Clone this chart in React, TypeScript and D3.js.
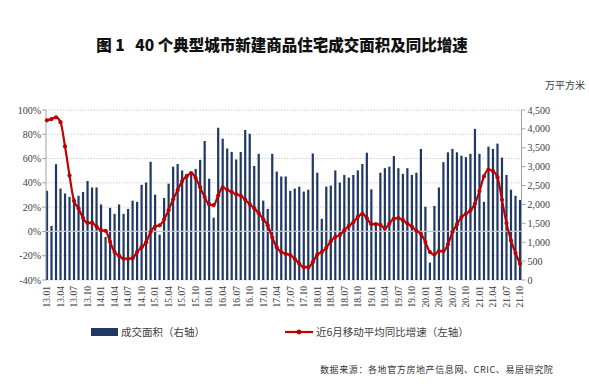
import React from "react";
import * as d3 from "d3";

// 成交面积（万平方米，右轴） 2013.01 – 2021.10
const areaValues: number[] = [
  2360, 1430, 3065, 2420, 2290, 2200, 2170, 2230, 2330, 2620, 2450, 2450,
  2000, 1140, 1910, 1750, 2000, 1750, 1880, 2100, 2070, 2520, 2580, 3130,
  2260, 1200, 2170, 2550, 3000, 3070, 2900, 2810, 2870, 2940, 3180, 3680,
  2680, 1650, 4030, 3740, 3480, 3390, 3190, 3390, 3970, 3870, 3020, 3340,
  2100, 1880, 3340, 2870, 2740, 2740, 2360, 2420, 2470, 2340, 2390, 3350,
  2840, 1620, 2470, 2500, 2900, 2580, 2780, 2710, 2780, 2900, 3070, 3370,
  2400, 1450, 2840, 2960, 3000, 3280, 2960, 2810, 2960, 2780, 2840, 3470,
  1940, 460, 1960, 2450, 3120, 3380, 3470, 3380, 3290, 3250, 3340, 4000,
  3340, 2070, 3530, 3470, 3610, 3240, 2780, 2390, 2230, 2120,
];

// 近6月移动平均同比增速（%，左轴）
const growthValues: number[] = [
  91.5, 92.5, 94, 90, 70, 46, 25, 19, 11, 7, 7, 4,
  1, 0.5, -8.5, -17, -20, -22.5, -22.5, -22, -17, -13, -9, -0.5,
  4, 5, 10, 17.5, 26.5, 34, 41.5, 45.3, 48, 44, 36.3, 28.3,
  22.2, 21.7, 29.5, 36.2, 34.3, 32.4, 30.5, 29.5, 26, 22.5, 19, 15,
  10, 5, -5, -13, -17, -18.4, -19.5, -22.5, -26.6, -29.4, -29.4, -25.3,
  -19, -17, -13.5, -8, -4.5, -3, 1, 4.5, 7.5, 12, 14.5, 11,
  6, 6, 5.5, 2.5, 6.5, 10.5, 11, 9.3, 6.5, 4, 0.5, -1.9,
  -8.8, -17, -19, -16.2, -16.2, -10.7, -0.5, 5.8, 11.8, 14.5, 17.3, 22.8,
  33.2, 45.3, 51, 49.7, 44.7, 26, 6.9, -7.4, -17.8, -26.6,
];

const startYear = 2013;
const categories: string[] = areaValues.map((_, i) => {
  const y = startYear + Math.floor(i / 12);
  const m = (i % 12) + 1;
  return `${String(y).slice(2)}.${m < 10 ? "0" + m : m}`;
});

const leftTicks: number[] = [100, 80, 60, 40, 20, 0, -20, -40];
const rightTicks: number[] = [0, 500, 1000, 1500, 2000, 2500, 3000, 3500, 4000, 4500];

const title = "图 1   40 个典型城市新建商品住宅成交面积及同比增速";
const unitLabel = "万平方米";
const barLegend = "成交面积（右轴）";
const lineLegend = "近6月移动平均同比增速（左轴）";
const sourceText = "数据来源：各地官方房地产信息网、CRIC、易居研究院";

const W = 589;
const H = 391;
const plotLeft = 46;
const plotRight = 521.5;
const plotTop = 110;
const plotBottom = 280;

const BAR = "#1F3864";
const RED = "#C00000";
const GRID = "#c4c4c4";
const TXT = "#404040";
const SERIF = "'Liberation Serif', 'Times New Roman', serif";
const CJK = "'Noto Sans CJK SC', sans-serif";

export default function App() {
  const x = d3
    .scalePoint<string>()
    .domain(categories)
    .range([plotLeft + 1, plotRight - 1.5]);
  const yL = d3.scaleLinear().domain([-40, 100]).range([plotBottom, plotTop]);
  const yR = d3.scaleLinear().domain([0, 4500]).range([plotBottom, plotTop]);

  const line = d3
    .line<number>()
    .x((_, i) => x(categories[i]) as number)
    .y((d) => yL(d))
    .curve(d3.curveMonotoneX);

  const barW = 2.2;

  return (
    <svg
      width={W}
      height={H}
      style={{ position: "absolute", left: 0, top: 0, background: "#fff" }}
    >
      <rect x={0} y={0} width={W} height={H} fill="#fff" />
      {/* title */}
      <text
        x={282}
        y={51}
        textAnchor="middle"
        fontFamily={CJK}
        fontWeight={900}
        fontSize={15.5}
        fill="#111"
        style={{ whiteSpace: "pre" }}
      >
        {title}
      </text>
      <text x={545} y={89} fontFamily={CJK} fontSize={10} fill={TXT}>
        {unitLabel}
      </text>

      {/* gridlines */}
      {leftTicks
        .filter((t) => t !== 0)
        .map((t) => (
          <line
            key={"g" + t}
            x1={plotLeft}
            x2={plotRight}
            y1={yL(t)}
            y2={yL(t)}
            stroke={GRID}
            strokeWidth={1}
            strokeDasharray="1.2,1.6"
          />
        ))}

      {/* bars */}
      {areaValues.map((v, i) => (
        <rect
          key={"b" + i}
          x={(x(categories[i]) as number) - barW / 2}
          y={yR(v)}
          width={barW}
          height={plotBottom - yR(v)}
          fill={BAR}
        />
      ))}

      {/* zero axis line */}
      <line
        x1={plotLeft}
        x2={plotRight}
        y1={yL(0)}
        y2={yL(0)}
        stroke="#c8c8c8"
        strokeWidth={1.2}
      />

      {/* left axis */}
      <line x1={plotLeft} x2={plotLeft} y1={plotTop} y2={plotBottom} stroke="#a0a0a0" />
      {leftTicks.map((t) => (
        <g key={"l" + t}>
          <line x1={plotLeft - 4} x2={plotLeft} y1={yL(t)} y2={yL(t)} stroke="#a0a0a0" />
          <text
            x={plotLeft - 5}
            y={yL(t)}
            dy="0.35em"
            textAnchor="end"
            fontFamily={SERIF}
            fontSize={10}
            fill={TXT}
          >
            {t}%
          </text>
        </g>
      ))}

      {/* right axis */}
      <line x1={plotRight} x2={plotRight} y1={plotTop} y2={plotBottom} stroke="#a0a0a0" />
      {rightTicks.map((t) => (
        <g key={"r" + t}>
          <line x1={plotRight} x2={plotRight + 4} y1={yR(t)} y2={yR(t)} stroke="#a0a0a0" />
          <text
            x={plotRight + 6}
            y={yR(t)}
            dy="0.35em"
            textAnchor="start"
            fontFamily={SERIF}
            fontSize={10}
            fill={TXT}
          >
            {d3.format(",")(t)}
          </text>
        </g>
      ))}

      {/* x tick labels */}
      {categories.map((c, i) =>
        i % 3 === 0 ? (
          <text
            key={"x" + i}
            transform={`translate(${x(c)},${plotBottom + 6}) rotate(-90)`}
            textAnchor="end"
            dy="0.35em"
            fontFamily={SERIF}
            fontSize={9.5}
            fill={TXT}
          >
            {c}
          </text>
        ) : null
      )}

      {/* growth line */}
      <path d={line(growthValues) || ""} fill="none" stroke={RED} strokeWidth={2.2} />
      {growthValues.map((v, i) => (
        <circle
          key={"c" + i}
          cx={x(categories[i]) as number}
          cy={yL(v)}
          r={2.1}
          fill={RED}
        />
      ))}

      {/* legend */}
      <rect x={91} y={328} width={27} height={8} fill={BAR} />
      <text x={121} y={336} fontFamily={CJK} fontSize={10.5} fill={TXT}>
        {barLegend}
      </text>
      <line x1={285} x2={313} y1={332} y2={332} stroke={RED} strokeWidth={2.2} />
      <circle cx={299} cy={332} r={2.4} fill={RED} />
      <text x={316} y={336} fontFamily={CJK} fontSize={10.5} fill={TXT}>
        {lineLegend}
      </text>

      {/* source */}
      <text
        x={320}
        y={373}
        fontFamily={CJK}
        fontSize={9}
        letterSpacing={0.6}
        fill="#333"
      >
        {sourceText}
      </text>
    </svg>
  );
}
